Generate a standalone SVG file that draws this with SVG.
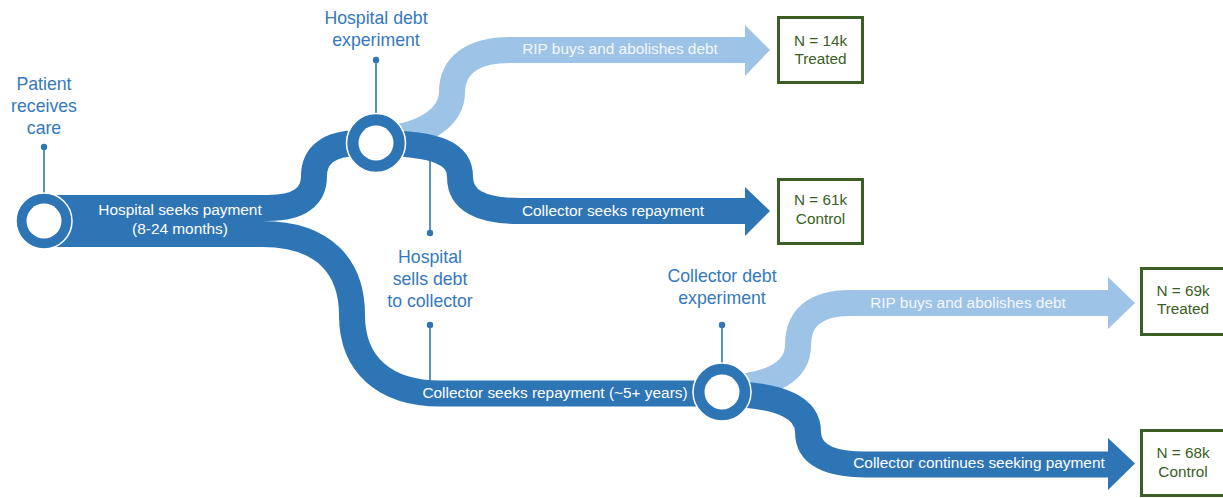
<svg xmlns="http://www.w3.org/2000/svg" width="1223" height="498" viewBox="0 0 1223 498">
<style>
.dark{fill:none;stroke:#2e75b6;stroke-width:26}
.light{fill:none;stroke:#9dc3e6;stroke-width:26}
.ahd{fill:#2e75b6}
.ahl{fill:#9dc3e6}
.bt{font-family:"Liberation Sans",Arial,sans-serif;font-size:15.4px;fill:#ffffff;text-anchor:middle}
.blt{font-family:"Liberation Sans",Arial,sans-serif;font-size:15.4px;fill:#f3f8fd;text-anchor:middle}
.lbl{font-family:"Liberation Sans",Arial,sans-serif;font-size:17.7px;fill:#3479bb;text-anchor:middle}
.ring{fill:#2e75b6;stroke:#ffffff;stroke-width:1.5}
.hole{fill:#ffffff}
.pin{stroke:#2e75b6;stroke-width:1.6}
.dot{fill:#2e75b6}
.box{fill:#ffffff;stroke:#3b5e24;stroke-width:3}
.bx{font-family:"Liberation Sans",Arial,sans-serif;font-size:15.3px;fill:#3b5e24;text-anchor:middle}
</style>
<g id="connectors">
  <path class="light" d="M376,140 C430,136 452,114 452,92 C452,66 472,50 510,50 H748"/>
  <polygon class="ahl" points="745,25 770,50 745,76"/>
  <path class="light" d="M722,388 C775,386 798,370 798,345 C798,318 815,303 850,303 H1110"/>
  <polygon class="ahl" points="1108,277 1135,303 1108,329"/>
  <path class="dark" d="M44,234 H262 C325,234 352,268 352,315 C352,365 385,393.5 440,393.5 H722"/>
  <path class="dark" d="M44,208 H268 C300,208 314,196 314,176 C314,156 328,143 360,143 H376"/>
  <path class="dark" d="M376,143 C440,143 460,155 460,177 C460,200 480,211 520,211 H748"/>
  <polygon class="ahd" points="745,187 770,211 745,236"/>
  <path class="dark" d="M722,394 C785,394 808,410 808,432 C808,455 830,464.5 865,464.5 H1110"/>
  <polygon class="ahd" points="1108,438 1135,463.5 1108,490"/>
  <text class="bt" x="180" y="215">Hospital seeks payment</text>
  <text class="bt" x="180" y="234">(8-24 months)</text>
  <text class="blt" x="620" y="54">RIP buys and abolishes debt</text>
  <text class="bt" x="613" y="216">Collector seeks repayment</text>
  <text class="bt" x="555" y="398">Collector seeks repayment (~5+ years)</text>
  <text class="blt" x="968" y="308">RIP buys and abolishes debt</text>
  <text class="bt" x="979" y="468">Collector continues seeking payment</text>
</g>
<g id="patient-care">
  <text class="lbl" x="44" y="90">Patient</text>
  <text class="lbl" x="44" y="112">receives</text>
  <text class="lbl" x="44" y="134">care</text>
  <line class="pin" x1="44" y1="147" x2="44" y2="194"/>
  <circle class="dot" cx="44" cy="147" r="3.2"/>
  <circle class="ring" cx="44" cy="221" r="28"/>
  <circle class="hole" cx="44" cy="221" r="17.5"/>
</g>
<g id="hospital-debt-experiment">
  <text class="lbl" x="376" y="24">Hospital debt</text>
  <text class="lbl" x="376" y="46">experiment</text>
  <line class="pin" x1="376" y1="60" x2="376" y2="114"/>
  <circle class="dot" cx="376" cy="60" r="3.2"/>
  <circle class="ring" cx="376" cy="143" r="29.5"/>
  <circle class="hole" cx="376" cy="143" r="17.5"/>
</g>
<g id="hospital-sells-debt">
  <line class="pin" x1="430" y1="156" x2="430" y2="233"/>
  <circle class="dot" cx="430" cy="233" r="3.2"/>
  <text class="lbl" x="430" y="263">Hospital</text>
  <text class="lbl" x="430" y="285">sells debt</text>
  <text class="lbl" x="430" y="307">to collector</text>
  <circle class="dot" cx="430" cy="325" r="3.2"/>
  <line class="pin" x1="430" y1="325" x2="430" y2="381"/>
</g>
<g id="collector-debt-experiment">
  <text class="lbl" x="722" y="282">Collector debt</text>
  <text class="lbl" x="722" y="304">experiment</text>
  <line class="pin" x1="722" y1="325" x2="722" y2="364"/>
  <circle class="dot" cx="722" cy="325" r="3.2"/>
  <circle class="ring" cx="722" cy="392" r="29"/>
  <circle class="hole" cx="722" cy="392" r="17.5"/>
</g>
<g id="box-hospital-treated">
  <rect class="box" x="778.5" y="17.5" width="84" height="65"/>
  <text class="bx" x="820.5" y="46">N = 14k</text>
  <text class="bx" x="820.5" y="64">Treated</text>
</g>
<g id="box-hospital-control">
  <rect class="box" x="778.5" y="179.5" width="84" height="64"/>
  <text class="bx" x="820.5" y="205">N = 61k</text>
  <text class="bx" x="820.5" y="224">Control</text>
</g>
<g id="box-collector-treated">
  <rect class="box" x="1141.5" y="268.5" width="84" height="66"/>
  <text class="bx" x="1183" y="296">N = 69k</text>
  <text class="bx" x="1183" y="314">Treated</text>
</g>
<g id="box-collector-control">
  <rect class="box" x="1141.5" y="430.5" width="84" height="65"/>
  <text class="bx" x="1183" y="458">N = 68k</text>
  <text class="bx" x="1183" y="477">Control</text>
</g>
</svg>
